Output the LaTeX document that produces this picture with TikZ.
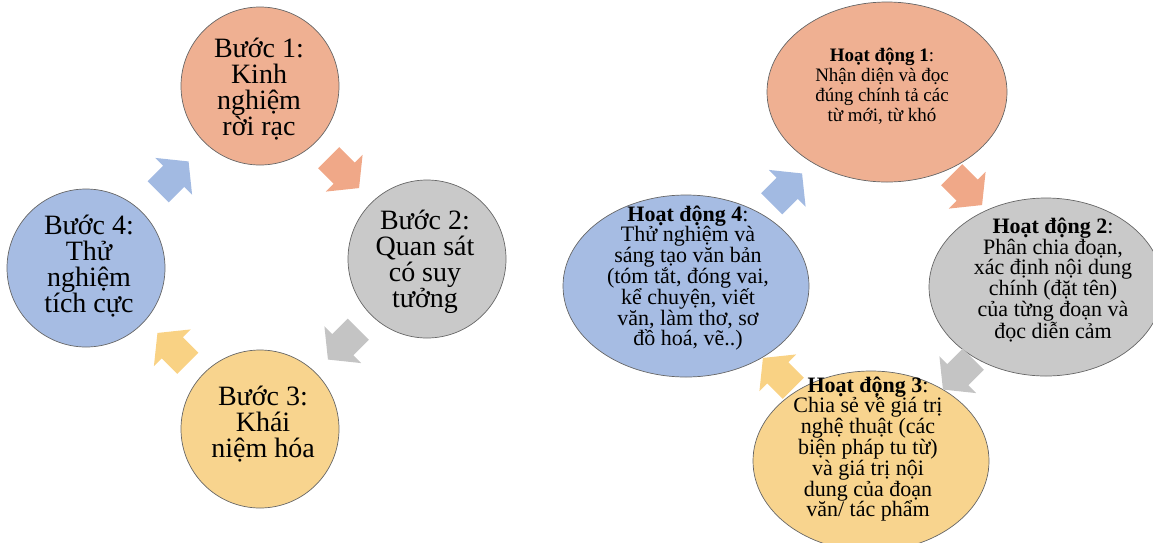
\documentclass[tikz,border=0pt]{standalone}
\usepackage{fontspec}
\setmainfont{Liberation Serif}
\usetikzlibrary{shapes.geometric,calc}
\definecolor{cOr}{RGB}{239,176,146}
\definecolor{cGr}{RGB}{201,201,201}
\definecolor{cYe}{RGB}{248,212,142}
\definecolor{cBl}{RGB}{166,188,227}
\definecolor{aOr}{RGB}{240,168,136}
\definecolor{aGr}{RGB}{196,196,196}
\definecolor{aYe}{RGB}{249,210,132}
\definecolor{aBl}{RGB}{162,186,226}
\begin{document}
\begin{tikzpicture}[x=1pt,y=-1pt,
  bub/.style={circle, draw=black!60, line width=0.7pt, minimum size=158pt, inner sep=0pt},
  ell/.style={ellipse, draw=black!60, line width=0.7pt, inner sep=0pt},
  bigtext/.style={align=center, inner sep=0pt, font=\fontsize{28}{26}\selectfont},
  smalltext/.style={align=center, inner sep=0pt, font=\fontsize{19}{20}\selectfont},
  midtext/.style={align=center, inner sep=0pt, font=\fontsize{22}{20.8}\selectfont},
  cyc/.pic={\fill[pic actions] (-21,-15) -- (1,-15) -- (1,-26) -- (22,0) -- (1,26) -- (1,15) -- (-21,15) -- cycle;}
]
\useasboundingbox (0,0) rectangle (1153,542);
% left cycle
\node[bub, fill=cOr] (b1) at (260,86) {};
\node[bub, fill=cGr] (b2) at (427,259) {};
\node[bub, fill=cYe] (b3) at (260,429) {};
\node[bub, fill=cBl] (b4) at (86,268) {};
\pic[fill=aOr, rotate=-45] at ($(b1)!0.5!(b2)$) {cyc};
\pic[fill=aGr, rotate=-135] at ($(b2)!0.5!(b3)$) {cyc};
\pic[fill=aYe, rotate=135] at ($(b3)!0.5!(b4)$) {cyc};
\pic[fill=aBl, rotate=45] at ($(b4)!0.5!(b1)$) {cyc};
\node[bigtext] (b1t) at (259,89) {Bước 1:\\Kinh\\nghiệm\\rời rạc};
\node[bigtext] (b2t) at (425,262) {Bước 2:\\Quan sát\\có suy\\tưởng};
\node[bigtext] (b3t) at (263,424) {Bước 3:\\Khái\\niệm hóa};
\node[bigtext] (b4t) at (89,266) {Bước 4:\\Thử\\nghiệm\\tích cực};
% right cycle
\node[ell, fill=cOr, minimum width=240pt, minimum height=180pt] (h1) at (887,92) {};
\node[ell, fill=cGr, minimum width=234pt, minimum height=178pt] (h2) at (1046,287) {};
\node[ell, fill=cYe, minimum width=236pt, minimum height=180pt] (h3) at (871,461) {};
\node[ell, fill=cBl, minimum width=246pt, minimum height=182pt] (h4) at (686,286) {};
\pic[fill=aOr, rotate=-45] at ($(h1)!0.5!(h2)$) {cyc};
\pic[fill=aGr, rotate=-135] at ($(h2)!0.5!(h3)$) {cyc};
\pic[fill=aYe, rotate=135] at ($(h3)!0.5!(h4)$) {cyc};
\pic[fill=aBl, rotate=45] at ($(h4)!0.5!(h1)$) {cyc};
\node[smalltext] (h1t) at (882,86) {\textbf{Hoạt động 1}:\\Nhận diện và đọc\\đúng chính tả các\\từ mới, từ khó};
\node[midtext] (h2t) at (1053,280) {\textbf{Hoạt động 2}:\\Phân chia đoạn,\\xác định nội dung\\chính (đặt tên)\\của từng đoạn và\\đọc diễn cảm};
\node[midtext] (h3t) at (868,449) {\textbf{Hoạt động 3}:\\Chia sẻ về giá trị\\nghệ thuật (các\\biện pháp tu từ)\\và giá trị nội\\dung của đoạn\\văn/ tác phẩm};
\node[midtext] (h4t) at (688,278) {\textbf{Hoạt động 4}:\\Thử nghiệm và\\sáng tạo văn bản\\(tóm tắt, đóng vai,\\kể chuyện, viết\\văn, làm thơ, sơ\\đồ hoá, vẽ..)};
\end{tikzpicture}
\end{document}
